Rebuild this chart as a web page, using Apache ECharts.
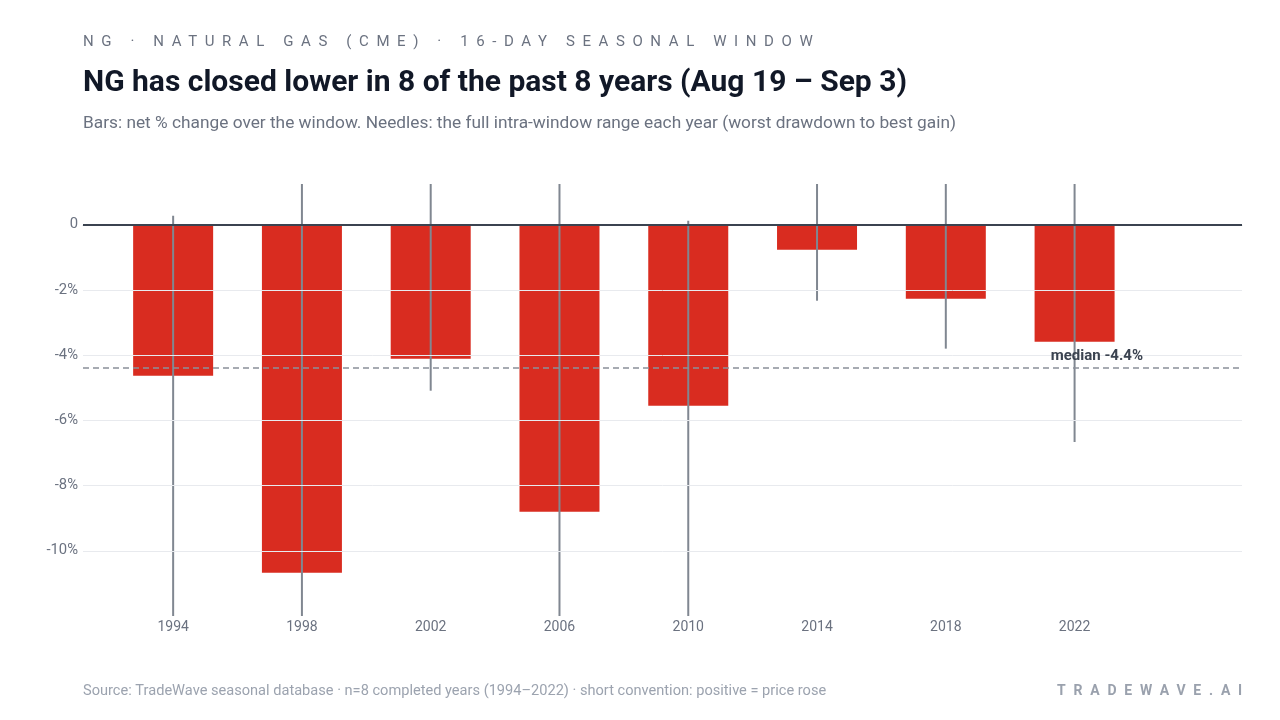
<!DOCTYPE html>
<html>
<head>
<meta charset="utf-8">
<script src="https://cdn.jsdelivr.net/npm/echarts@6/dist/echarts.min.js"></script>
<style>
  html, body { margin: 0; padding: 0; background: #ffffff; }
  #wrap { position: relative; width: 1280px; height: 720px; }
  #chart { position: absolute; left: 0; top: 0; width: 1280px; height: 720px; }
  .kicker { position: absolute; left: 83px; top: 32px; font-family: Roboto, sans-serif; font-size: 15px;
            letter-spacing: 7.6px; color: #6b7280; white-space: nowrap; }
  .brand { position: absolute; right: 30px; top: 682px; font-family: Roboto, sans-serif; font-size: 14px;
           font-weight: 700; letter-spacing: 7.8px; color: #9aa1ad; white-space: nowrap; }
</style>
</head>
<body>
<div id="wrap">
  <div id="chart"></div>
  <div class="kicker">NG · NATURAL GAS (CME) · 16-DAY SEASONAL WINDOW</div>
  <div class="brand">TRADEWAVE.AI</div>
</div>
<script>
// ---- data ----
const years = [1994, 1998, 2002, 2006, 2010, 2014, 2018, 2022];
const netChange = [-4.63, -10.67, -4.11, -8.80, -5.55, -0.77, -2.27, -3.59];
const rangeLow  = [-13.4, -15.2, -5.09, -14.1, -12.9, -2.33, -3.80, -6.66];
const rangeHigh = [0.28, 2.1, 1.8, 3.0, 0.12, 1.6, 1.9, 2.4];
const medianValue = -4.4;
const yTicks = [-10, -8, -6, -4, -2, 0];
const gridTicks = [-10, -8, -6, -4, -2];

const barData = years.map((y, i) => [y, netChange[i]]);
const needleData = years.map((y, i) => [y, rangeLow[i], rangeHigh[i]]);

const FONT = 'Roboto, sans-serif';
const chart = echarts.init(document.getElementById('chart'), null, { renderer: 'canvas' });

const option = {
  backgroundColor: '#ffffff',
  animation: false,
  title: [
    {
      text: 'NG has closed lower in 8 of the past 8 years (Aug 19 \u2013 Sep 3)',
      left: 83, top: 68, padding: 0,
      textStyle: { fontFamily: FONT, fontSize: 30, fontWeight: 700, color: '#111827' }
    },
    {
      text: 'Bars: net % change over the window. Needles: the full intra-window range each year (worst drawdown to best gain)',
      left: 83, top: 115, padding: 0,
      textStyle: { fontFamily: FONT, fontSize: 17.3, fontWeight: 400, color: '#6b7280' }
    },
    {
      text: 'Source: TradeWave seasonal database \u00b7 n=8 completed years (1994\u20132022) \u00b7 short convention: positive = price rose',
      left: 83, top: 684, padding: 0,
      textStyle: { fontFamily: FONT, fontSize: 14.6, fontWeight: 400, color: '#9ca3af' }
    }
  ],
  grid: { left: 83, right: 38, top: 184, bottom: 104, containLabel: false },
  xAxis: {
    type: 'value',
    min: 1991.2,
    max: 2027.2,
    axisLine: { show: true, lineStyle: { color: '#d1d5db', width: 1 } },
    axisTick: { show: false },
    splitLine: { show: false },
    axisLabel: {
      customValues: years,
      formatter: v => String(Math.round(v)),
      fontFamily: FONT, fontSize: 14, color: '#6b7280', margin: 4
    }
  },
  yAxis: {
    type: 'value',
    min: -12,
    max: 1.25,
    axisLine: { show: false },
    axisTick: { show: false },
    splitLine: { show: false },
    axisLabel: {
      customValues: yTicks,
      formatter: v => v === 0 ? '0' : v + '%',
      fontFamily: FONT, fontSize: 14.8, color: '#6b7280', margin: 5,
      verticalAlign: 'middle', padding: [3, 0, 0, 0]
    }
  },
  series: [
    {
      // background gridlines
      type: 'line',
      data: [],
      z: 1,
      silent: true,
      markLine: {
        silent: true,
        symbol: 'none',
        label: { show: false },
        lineStyle: { color: '#e8eaee', width: 1, type: 'solid' },
        data: gridTicks.map(t => ({ yAxis: t }))
      }
    },
    {
      type: 'bar',
      data: barData,
      barWidth: 80,
      z: 2,
      itemStyle: { color: '#d92c20' },
      markLine: {
        silent: true,
        symbol: 'none',
        data: [
          { yAxis: 0, lineStyle: { color: '#3b4350', width: 2, type: 'solid' }, label: { show: false } }
        ]
      }
    },
    {
      type: 'custom',
      data: needleData,
      z: 4,
      silent: true,
      renderItem: function (params, api) {
        const cs = params.coordSys;
        const x = api.value(0);
        const pLo = api.coord([x, api.value(1)]);
        const pHi = api.coord([x, api.value(2)]);
        const top = cs.y, bottom = cs.y + cs.height;
        const y1 = Math.max(top, Math.min(bottom, pHi[1]));
        const y2 = Math.max(top, Math.min(bottom, pLo[1]));
        return {
          type: 'line',
          shape: { x1: pHi[0], y1: y1, x2: pLo[0], y2: y2 },
          style: { stroke: '#808791', lineWidth: 2 }
        };
      },
      markLine: {
        silent: true,
        symbol: 'none',
        data: [
          {
            yAxis: medianValue,
            lineStyle: { color: '#8b9099', width: 1.5, type: [6, 4] },
            label: {
              show: true,
              position: 'insideEndTop',
              formatter: 'median ' + medianValue.toFixed(1) + '%',
              fontFamily: FONT, fontSize: 15, fontWeight: 700, color: '#3b4350',
              padding: [0, 95, 0, 0],
              distance: 4
            }
          }
        ]
      }
    }
  ]
};
chart.setOption(option);
</script>
</body>
</html>
